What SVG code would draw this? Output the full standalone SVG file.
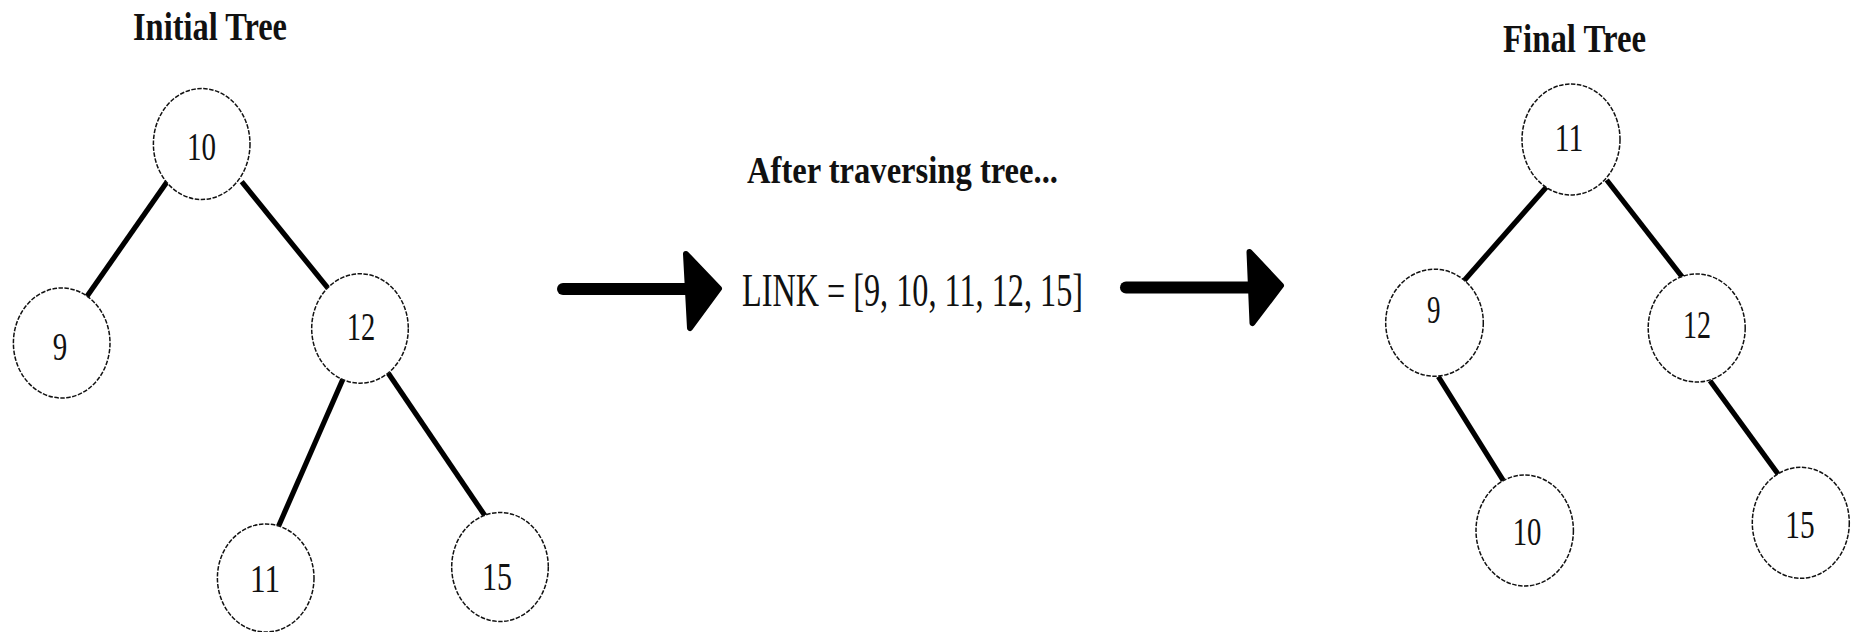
<svg xmlns="http://www.w3.org/2000/svg" width="1854" height="632" viewBox="0 0 1854 632">
  <style>
    .node ellipse { fill: #ffffff; stroke: #111111; stroke-width: 1.5; stroke-dasharray: 4.5 1.5; }
    .node text { font-family: "Liberation Serif", "Times New Roman", serif; font-size: 41px; fill: #111111; text-anchor: middle; }
    .edge { stroke: #000000; stroke-width: 5.2; stroke-linecap: butt; fill: none; }
    .title { font-family: "Liberation Serif", "Times New Roman", serif; font-weight: bold; font-size: 41px; fill: #111111; }
    .label { font-family: "Liberation Serif", "Times New Roman", serif; fill: #111111; }
    .shaft { stroke: #000000; stroke-width: 12; stroke-linecap: round; fill: none; }
    .head { fill: #000000; stroke: #000000; stroke-width: 6; stroke-linejoin: round; }
  </style>
  <rect x="0" y="0" width="1854" height="632" fill="#ffffff"/>

  <!-- Titles and middle labels -->
  <text class="title" x="133" y="40" textLength="154" lengthAdjust="spacingAndGlyphs">Initial Tree</text>
  <text class="title" x="1503" y="52" textLength="143" lengthAdjust="spacingAndGlyphs">Final Tree</text>
  <text class="label" x="747" y="183" font-size="38" font-weight="bold" textLength="311" lengthAdjust="spacingAndGlyphs">After traversing tree...</text>
  <text class="label" x="742" y="306" font-size="47" textLength="341" lengthAdjust="spacingAndGlyphs">LINK = [9, 10, 11, 12, 15]</text>

  <!-- Connectors -->
  <g id="connectors">
    <line class="edge" x1="168.3" y1="180" x2="86.7" y2="296.7"/>
    <line class="edge" x1="241.7" y1="181.7" x2="330" y2="290.7"/>
    <line class="edge" x1="343.3" y1="378.3" x2="278.3" y2="526.7"/>
    <line class="edge" x1="388.3" y1="373.3" x2="486.7" y2="518.3"/>
    <line class="edge" x1="1546.7" y1="186.7" x2="1464" y2="280.7"/>
    <line class="edge" x1="1606.7" y1="180" x2="1683.3" y2="278.3"/>
    <line class="edge" x1="1438.3" y1="376.7" x2="1503.3" y2="480.7"/>
    <line class="edge" x1="1710" y1="380.7" x2="1780" y2="476.7"/>
    <g id="arrow-left">
      <line class="shaft" x1="563" y1="289" x2="686" y2="289"/>
      <polygon class="head" points="686,254 719,288.5 690,328"/>
    </g>
    <g id="arrow-right">
      <line class="shaft" x1="1126" y1="287.5" x2="1250" y2="287.5"/>
      <polygon class="head" points="1249.5,252 1281,285.5 1252.5,323"/>
    </g>
  </g>

  <!-- Initial tree nodes -->
  <g id="init-10" class="node"><ellipse cx="201.7" cy="144" rx="48.3" ry="55.5"/><text x="201.5" y="160" textLength="29" lengthAdjust="spacingAndGlyphs">10</text></g>
  <g id="init-9" class="node"><ellipse cx="61.7" cy="343" rx="48.3" ry="55"/><text x="60" y="360" textLength="14.5" lengthAdjust="spacingAndGlyphs">9</text></g>
  <g id="init-12" class="node"><ellipse cx="360" cy="328.5" rx="48.3" ry="54.7"/><text x="361" y="340" textLength="28.5" lengthAdjust="spacingAndGlyphs">12</text></g>
  <g id="init-11" class="node"><ellipse cx="265.7" cy="578" rx="48.3" ry="54"/><text x="265" y="592" textLength="30" lengthAdjust="spacingAndGlyphs">11</text></g>
  <g id="init-15" class="node"><ellipse cx="500" cy="567" rx="48.3" ry="54.5"/><text x="497" y="590" textLength="30" lengthAdjust="spacingAndGlyphs">15</text></g>

  <!-- Final tree nodes -->
  <g id="final-11" class="node"><ellipse cx="1571" cy="139.5" rx="49" ry="55.5"/><text x="1569" y="151" textLength="28.5" lengthAdjust="spacingAndGlyphs">11</text></g>
  <g id="final-9" class="node"><ellipse cx="1434.5" cy="322.7" rx="48.8" ry="53.5"/><text x="1433.7" y="323" textLength="13.5" lengthAdjust="spacingAndGlyphs">9</text></g>
  <g id="final-12" class="node"><ellipse cx="1696.7" cy="328" rx="48.5" ry="54"/><text x="1697" y="338" textLength="28" lengthAdjust="spacingAndGlyphs">12</text></g>
  <g id="final-10" class="node"><ellipse cx="1524.7" cy="530.5" rx="48.7" ry="55.5"/><text x="1527" y="545" textLength="28.7" lengthAdjust="spacingAndGlyphs">10</text></g>
  <g id="final-15" class="node"><ellipse cx="1800.8" cy="522.8" rx="48.5" ry="55.5"/><text x="1800" y="538" textLength="29.3" lengthAdjust="spacingAndGlyphs">15</text></g>
</svg>
